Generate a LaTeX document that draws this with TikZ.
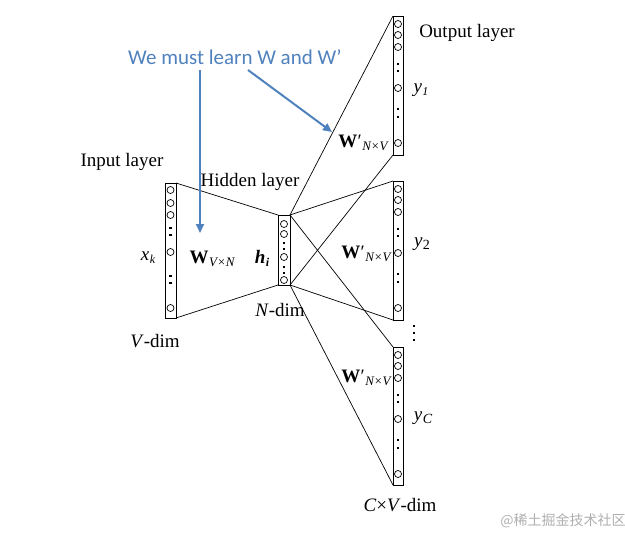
\documentclass[tikz,border=0pt]{standalone}
\usepackage{fontspec}
\setmainfont{Liberation Serif}
\newfontfamily\calib{Carlito}
\newfontfamily\cjk{Noto Sans CJK SC}
\usetikzlibrary{arrows.meta}
\definecolor{noteblue}{RGB}{79,129,189}
\definecolor{wmgray}{RGB}{175,175,175}
\tikzset{
  layerbox/.style={draw, line width=0.9pt, rectangle, inner sep=0pt, outer sep=0pt},
  unit/.style={line width=0.7pt},
  conn/.style={line width=0.7pt},
  lab/.style={font=\fontsize{19}{22}\selectfont, inner sep=0pt},
  note/.style={noteblue, line width=2pt, -{Triangle[length=9pt,width=8pt]}},
}
\newcommand\mycircs[3]{% x, top, list of offsets
  \foreach \o in {#3} {\draw[unit] (#1,#2+\o) circle (3.5);}}
\newcommand\mydots[3]{%
  \foreach \o in {#3} {\fill (#1-1.2,#2+\o-1.3) rectangle (#1+1.3,#2+\o+1.3);}}
\newcommand\wprime[1]{\bfseries W\kern0.3pt{\mdseries\char"2032}\kern0.5pt\raisebox{-0.4ex}{\fontsize{13}{13}\selectfont\mdseries\itshape #1}}
\begin{document}
\begin{tikzpicture}[x=1pt,y=-1pt]
\useasboundingbox (0,0) rectangle (625,533);
% layer boxes
\node[layerbox, minimum width=11pt, minimum height=135pt] (inp) at (170.5,250.5) {};
\node[layerbox, minimum width=12pt, minimum height=70pt] (hid) at (284,250) {};
\node[layerbox, minimum width=10pt, minimum height=139pt] (out1) at (398,85.5) {};
\node[layerbox, minimum width=10pt, minimum height=139pt] (out2) at (398,250.5) {};
\node[layerbox, minimum width=10pt, minimum height=138pt] (out3) at (398,416) {};
% units
\mycircs{170.5}{183}{7,20,32,69,125}
\mydots{170.5}{183}{45,52,93,100}
\mycircs{284}{215}{9,19,42,65}
\mydots{284}{215}{28,34,52,58}
\foreach \t in {16,181,347} {
  \mycircs{398}{\t}{8,19,31,72,127}
  \mydots{398}{\t}{48,55,93,101}
}
% connectors
\draw[conn] (inp.north east) -- (hid.north west);
\draw[conn] (inp.south east) -- (hid.south west);
\draw[conn] (hid.north east) -- (out1.north west);
\draw[conn] (hid.south east) -- (out1.south west);
\draw[conn] (hid.north east) -- (out2.north west);
\draw[conn] (hid.south east) -- (out2.south west);
\draw[conn] (hid.north east) -- (out3.north west);
\draw[conn] (hid.south east) -- (out3.south west);
% labels
\node[lab] (tin) at (122,162) {Input layer};
\node[lab] (thid) at (250,182) {Hidden layer};
\node[lab] (tout) at (467,33) {Output layer};
\node[lab] (xk) at (148,258) {\itshape x\kern0.5pt\raisebox{-0.35ex}{\fontsize{12}{12}\selectfont k}};
\node[lab] (wvn) at (212,259) {\bfseries W\kern0.5pt\raisebox{-0.4ex}{\fontsize{13}{13}\selectfont\mdseries\itshape V×N}};
\node[lab] (hi) at (262,258) {\bfseries\itshape h\kern0.5pt\raisebox{-0.35ex}{\fontsize{12}{12}\selectfont i}};
\node[lab] (ndim) at (280,310) {\textit{N}-dim};
\node[lab] (vdim) at (155,341) {\textit{V}-dim};
\node[lab] (w1) at (363,143) {\wprime{N×V}};
\node[lab] (w2) at (366,254) {\wprime{N×V}};
\node[lab] (w3) at (366,378) {\wprime{N×V}};
\node[lab] (y1) at (421,90) {\itshape y\kern0.5pt\raisebox{-0.35ex}{\fontsize{12}{12}\selectfont 1}};
\node[lab] (y2) at (422,244) {\itshape y\kern0.5pt\raisebox{-0.35ex}{\fontsize{14}{14}\selectfont\upshape 2}};
\node[lab] (yc) at (423,418) {\itshape y\kern0.5pt\raisebox{-0.35ex}{\fontsize{14}{14}\selectfont C}};
\node[lab] (cvdim) at (400,505) {\textit{C}×\textit{V}-dim};
\mydots{414}{326}{0,7,14}
% note
\node[noteblue, inner sep=0pt, font=\calib\fontsize{21}{24}\selectfont, anchor=west] (note) at (128,57) {We must learn W and W’};
\coordinate (a1s) at (200,70);
\coordinate (a1e) at (200,233);
\coordinate (a2s) at (248,70);
\coordinate (a2e) at (332,132);
\draw[note] (a1s) -- (a1e);
\draw[note] (a2s) -- (a2e);
% watermark
\node[wmgray, inner sep=0pt, font=\cjk\fontsize{14}{16}\selectfont] (wm) at (563,521) {@稀土掘金技术社区};
\end{tikzpicture}
\end{document}
